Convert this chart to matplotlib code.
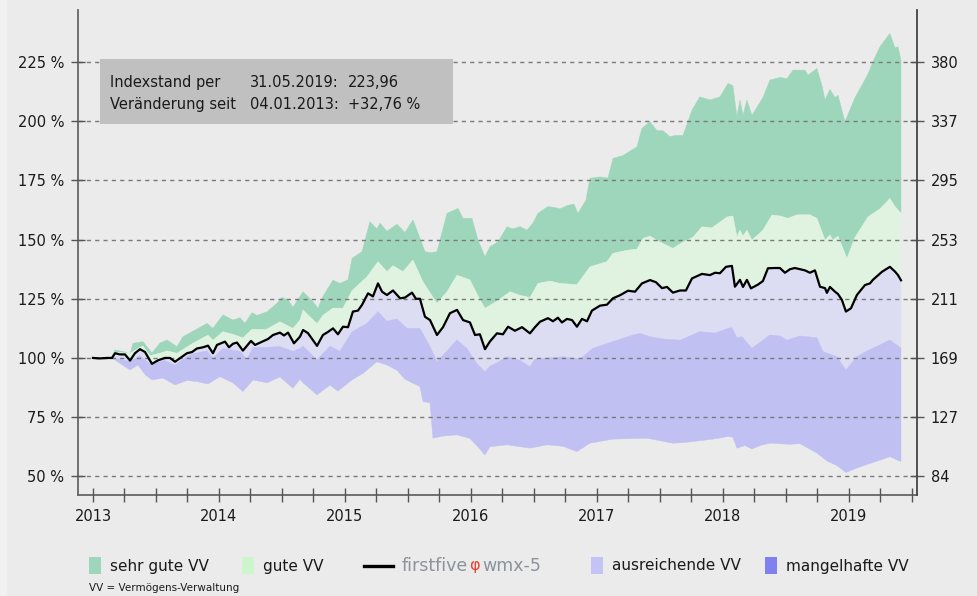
import numpy as np
import matplotlib
matplotlib.use('Agg')
from matplotlib import pyplot as plt
from matplotlib.patches import Rectangle
from matplotlib.lines import Line2D
from matplotlib.ticker import MultipleLocator, FuncFormatter

# firstfive wmx-5 index, % of start value
idx_years = [2013.000, 2013.056, 2013.111, 2013.151, 2013.175, 2013.214, 2013.254, 2013.294, 2013.333, 2013.373,
             2013.413, 2013.468, 2013.516, 2013.571, 2013.611, 2013.651, 2013.706, 2013.746, 2013.786, 2013.825,
             2013.873, 2013.913, 2013.952, 2013.984, 2014.048, 2014.079, 2014.111, 2014.143, 2014.190, 2014.254,
             2014.286, 2014.349, 2014.389, 2014.429, 2014.484, 2014.516, 2014.548, 2014.595, 2014.643, 2014.667,
             2014.706, 2014.746, 2014.778, 2014.825, 2014.865, 2014.905, 2014.944, 2014.984, 2015.024, 2015.063,
             2015.103, 2015.135, 2015.183, 2015.222, 2015.262, 2015.294, 2015.333, 2015.381, 2015.437, 2015.476,
             2015.532, 2015.563, 2015.595, 2015.635, 2015.675, 2015.730, 2015.778, 2015.833, 2015.889, 2015.937,
             2015.992, 2016.032, 2016.071, 2016.111, 2016.151, 2016.206, 2016.254, 2016.294, 2016.349, 2016.405,
             2016.468, 2016.508, 2016.548, 2016.611, 2016.651, 2016.690, 2016.722, 2016.762, 2016.802, 2016.841,
             2016.881, 2016.921, 2016.960, 2017.024, 2017.079, 2017.127, 2017.183, 2017.246, 2017.302, 2017.357,
             2017.421, 2017.468, 2017.516, 2017.556, 2017.603, 2017.659, 2017.706, 2017.754, 2017.833, 2017.897,
             2017.937, 2017.976, 2018.024, 2018.071, 2018.095, 2018.135, 2018.159, 2018.190, 2018.222, 2018.278,
             2018.317, 2018.357, 2018.413, 2018.452, 2018.492, 2018.532, 2018.571, 2018.611, 2018.651, 2018.690,
             2018.730, 2018.770, 2018.810, 2018.825, 2018.849, 2018.889, 2018.913, 2018.944, 2018.976, 2019.016,
             2019.063, 2019.127, 2019.167, 2019.190, 2019.262, 2019.325, 2019.365, 2019.389, 2019.413]
idx_values = [100, 99.8, 100, 100, 102, 101.5, 101.5, 98.9, 102, 103.7,
              102.5, 97.5, 99, 100, 100, 98.4, 100.5, 102, 102.5, 104,
              104.5, 105.2, 102, 105.5, 106.9, 104.5, 106, 106.5, 103.1, 107.2,
              105.5, 107, 108, 109.7, 110.7, 109.5, 110.7, 106.2, 109, 111.8,
              110.5, 107.5, 105.1, 109.7, 111, 112.5, 110, 113.2, 113, 119.6,
              120, 122.4, 127.3, 126, 131.5, 128, 126.6, 128.5, 125.2, 125.5,
              127.6, 125, 125, 117.4, 116, 109.7, 113, 118.9, 120.3, 116,
              115, 109.7, 110, 103.7, 107, 110.4, 110, 113.2, 111.5, 113,
              110.4, 113, 115.3, 116.8, 115.5, 117, 115, 116.5, 116, 113.2,
              116.5, 115.5, 120, 122.1, 122.5, 125.2, 126.5, 128.4, 128, 131.5,
              132.9, 132, 129.5, 130, 127.6, 128.5, 128.5, 133.6, 135.5, 135,
              136, 135.8, 138.5, 138.9, 130.1, 133, 130, 133, 129.4, 131,
              132.5, 137.9, 138, 138, 136, 137.5, 138, 137.5, 137, 136,
              137, 130.1, 129.5, 127.5, 130, 128, 127, 124.5, 119.6, 121,
              126.6, 130.8, 131.5, 133, 136.4, 138.5, 136.5, 135, 132.8]

# upper edge of "sehr gute VV"
top_years = [2013.000, 2013.111, 2013.151, 2013.175, 2013.254, 2013.294, 2013.317, 2013.397, 2013.468, 2013.532,
             2013.587, 2013.667, 2013.714, 2013.810, 2013.905, 2013.952, 2014.032, 2014.111, 2014.167, 2014.206,
             2014.262, 2014.302, 2014.381, 2014.460, 2014.500, 2014.548, 2014.587, 2014.643, 2014.667, 2014.746,
             2014.786, 2014.825, 2014.905, 2014.960, 2015.024, 2015.056, 2015.135, 2015.198, 2015.254, 2015.278,
             2015.333, 2015.413, 2015.476, 2015.540, 2015.571, 2015.635, 2015.683, 2015.730, 2015.810, 2015.897,
             2015.937, 2016.008, 2016.056, 2016.111, 2016.151, 2016.214, 2016.286, 2016.333, 2016.389, 2016.444,
             2016.492, 2016.532, 2016.611, 2016.667, 2016.706, 2016.770, 2016.817, 2016.849, 2016.913, 2016.944,
             2017.024, 2017.087, 2017.127, 2017.206, 2017.317, 2017.357, 2017.421, 2017.476, 2017.524, 2017.579,
             2017.619, 2017.683, 2017.754, 2017.817, 2017.897, 2017.976, 2018.040, 2018.079, 2018.111, 2018.135,
             2018.159, 2018.190, 2018.230, 2018.317, 2018.373, 2018.452, 2018.508, 2018.556, 2018.651, 2018.675,
             2018.746, 2018.786, 2018.810, 2018.849, 2018.889, 2018.913, 2018.968, 2019.048, 2019.111, 2019.151,
             2019.190, 2019.246, 2019.325, 2019.365, 2019.389, 2019.413]
top_values = [100, 100, 100.5, 103.4, 102.5, 101.5, 106.2, 106.9, 102.1, 106.3,
              107.6, 104.8, 109, 111.8, 114.6, 112.5, 118.2, 116, 117, 114.6,
              119.1, 118, 119.5, 123.1, 125.6, 124.5, 121.4, 126, 128, 123.8,
              121, 126, 132.9, 131.5, 133, 142.1, 144.9, 157.6, 154.5, 157,
              153.5, 156.5, 153, 158.3, 154, 144.9, 144.5, 144.9, 161.1, 163.2,
              159, 159, 149.8, 142.8, 147, 149, 155.4, 154.5, 155.5, 154,
              157, 161.1, 164, 163.5, 163, 164.5, 165, 161.1, 166.7, 175.9,
              176.5, 176, 184.3, 185.5, 189.2, 197, 199.8, 196, 196, 193.5,
              194, 194, 204.7, 210.3, 209, 210.3, 216, 215, 202, 209,
              202.5, 209, 202.5, 210, 217.4, 218.5, 218, 221.6, 221.6, 219.5,
              222.3, 215, 209, 213.5, 210, 211, 199.8, 210, 216, 220,
              225.1, 231.5, 237.1, 231, 231.5, 225.8]

# border "sehr gute VV" / "gute VV"
mid_years = [2013.000, 2013.111, 2013.151, 2013.175, 2013.294, 2013.373, 2013.397, 2013.452, 2013.532, 2013.587,
             2013.667, 2013.770, 2013.913, 2013.952, 2014.032, 2014.111, 2014.190, 2014.262, 2014.373, 2014.484,
             2014.587, 2014.643, 2014.667, 2014.778, 2014.825, 2014.905, 2014.984, 2015.056, 2015.175, 2015.262,
             2015.333, 2015.381, 2015.460, 2015.540, 2015.619, 2015.730, 2015.810, 2015.889, 2015.992, 2016.048,
             2016.111, 2016.206, 2016.310, 2016.389, 2016.468, 2016.532, 2016.627, 2016.706, 2016.841, 2016.944,
             2017.079, 2017.127, 2017.238, 2017.317, 2017.365, 2017.421, 2017.500, 2017.603, 2017.683, 2017.762,
             2017.833, 2017.913, 2018.032, 2018.079, 2018.111, 2018.135, 2018.159, 2018.190, 2018.230, 2018.317,
             2018.389, 2018.452, 2018.516, 2018.587, 2018.690, 2018.746, 2018.810, 2018.849, 2018.873, 2018.913,
             2018.984, 2019.048, 2019.151, 2019.246, 2019.325, 2019.365, 2019.413]
mid_values = [100, 100, 100.5, 102.5, 102, 104.5, 105, 101, 102, 103,
              102, 105.5, 109.7, 107.5, 111.1, 110, 108.5, 112.1, 112, 115.3,
              112.5, 116, 120.3, 114.5, 118, 121.1, 121, 128.5, 134.3, 140.7,
              136.5, 139, 136.5, 141.4, 132.2, 123.1, 128, 135, 133, 127,
              121, 124, 128, 126.5, 125.5, 131.5, 132.5, 131.5, 131, 138.5,
              140.7, 144.2, 145.5, 146, 150.5, 151.5, 149, 146.3, 149, 151,
              155.4, 155, 159.6, 160, 151.2, 154, 151.5, 154, 149.8, 154,
              160.4, 160, 159, 160.5, 160.5, 159, 149.8, 152, 149.8, 151.5,
              142.1, 151, 159.6, 163, 167.4, 164, 161.1]

# border "ausreichende VV" / "mangelhafte VV"
low_years = [2013.000, 2013.111, 2013.175, 2013.294, 2013.373, 2013.452, 2013.571, 2013.651, 2013.770, 2013.905,
             2013.952, 2014.032, 2014.167, 2014.222, 2014.270, 2014.381, 2014.484, 2014.587, 2014.643, 2014.667,
             2014.778, 2014.881, 2014.960, 2015.056, 2015.175, 2015.262, 2015.333, 2015.413, 2015.492, 2015.595,
             2015.675, 2015.730, 2015.889, 2015.968, 2016.048, 2016.111, 2016.151, 2016.206, 2016.286, 2016.389,
             2016.468, 2016.508, 2016.730, 2016.865, 2016.968, 2017.127, 2017.286, 2017.341, 2017.421, 2017.524,
             2017.659, 2017.817, 2017.937, 2018.040, 2018.071, 2018.111, 2018.151, 2018.190, 2018.230, 2018.373,
             2018.452, 2018.508, 2018.611, 2018.746, 2018.794, 2018.905, 2018.976, 2019.063, 2019.143, 2019.246,
             2019.325, 2019.413]
low_values = [100, 100, 100, 98.5, 101, 97.5, 99, 97, 101.5, 103,
              100, 104, 102.8, 99.5, 104.5, 104.5, 104.8, 102.8, 104, 105,
              99.2, 105, 102.8, 111.1, 114.6, 119.6, 115.5, 116.5, 112.5, 112.5,
              104.8, 98.4, 107.6, 104, 97.5, 94.2, 96.5, 98, 100.6, 99,
              96.3, 99.5, 100.5, 99.5, 104.1, 106.9, 109.7, 110.4, 109, 108,
              107.5, 111.1, 110.5, 112.5, 112.8, 108.5, 109, 106.5, 104.1, 109.7,
              109.3, 107.5, 109.3, 108.5, 102.7, 100.5, 94.9, 100.5, 103, 105.5,
              107.6, 104.1]

# lower edge of "mangelhafte VV"
bottom_years = [2013.000, 2013.111, 2013.151, 2013.294, 2013.357, 2013.413, 2013.468, 2013.556, 2013.651, 2013.746,
                2013.825, 2013.913, 2014.008, 2014.111, 2014.190, 2014.270, 2014.381, 2014.484, 2014.587, 2014.643,
                2014.667, 2014.778, 2014.881, 2014.944, 2015.056, 2015.143, 2015.254, 2015.333, 2015.413, 2015.476,
                2015.595, 2015.619, 2015.675, 2015.698, 2015.778, 2015.889, 2015.992, 2016.071, 2016.111, 2016.151,
                2016.286, 2016.468, 2016.603, 2016.730, 2016.841, 2016.944, 2017.127, 2017.397, 2017.603, 2017.683,
                2017.921, 2018.040, 2018.079, 2018.111, 2018.175, 2018.230, 2018.294, 2018.373, 2018.532, 2018.611,
                2018.746, 2018.825, 2018.905, 2018.976, 2019.063, 2019.143, 2019.246, 2019.325, 2019.413]
bottom_values = [100, 100, 100, 94.9, 97, 93, 90.7, 91.5, 88.6, 90.5,
                 90, 89, 92.1, 89.5, 85.8, 90.7, 89.5, 92, 87.2, 91,
                 89.5, 84.4, 88.5, 86, 90.7, 93.5, 98.4, 97, 94.8, 91,
                 87.9, 81.6, 81, 66.1, 67, 67.5, 66, 61.5, 59, 62.5,
                 63.3, 61.9, 63.3, 62.7, 60.4, 64, 65.7, 66.1, 64, 64.2,
                 65.7, 66.8, 66.5, 61.9, 63, 61.5, 63, 64, 63.5, 63.8,
                 59.8, 56.5, 54.5, 51.6, 53.5, 55, 56.8, 58.3, 56.2]

pct_ticks = [50, 75, 100, 125, 150, 175, 200, 225]
right_labels = ['84', '127', '169', '211', '253', '295', '337', '380']

info_labels = ['Indexstand per', 'Veränderung seit']
info_dates = ['31.05.2019:', '04.01.2013:']
info_values = ['223,96', '+32,76 %']

legend_labels = ['sehr gute VV', 'gute VV', 'ausreichende VV', 'mangelhafte VV']
legend_colors = ['#9dd6bb', '#cdf5cd', '#c3c3f5', '#8080f0']
band_colors = ['#9dd6bb', '#e0f3e0', '#dcdcf3', '#c0c0f2']

BG = '#ebebeb'
W, H = 978, 596


def band(ax, x_hi, y_hi, x_lo, y_lo, color):
    """Fill the area between two edges with their own x"""
    xs = np.concatenate([x_hi, x_lo[::-1]])
    ys = np.concatenate([y_hi, y_lo[::-1]])
    ax.fill(xs, ys, facecolor=color, edgecolor=color, linewidth=0.3, zorder=1)


fig = plt.figure(figsize=(W / 100, H / 100), dpi=100, facecolor=BG)
fig.add_artist(Rectangle((0, 0), 7 / W, 1, transform=fig.transFigure,
                         facecolor='#f1f1f1', edgecolor='none'))
ax = fig.add_axes([78 / W, 1 - 495 / H, (917 - 78) / W, (495 - 10) / H])
ax.set_facecolor(BG)

edges = [(np.array(top_years), np.array(top_values)),
         (np.array(mid_years), np.array(mid_values)),
         (np.array(idx_years), np.array(idx_values)),
         (np.array(low_years), np.array(low_values)),
         (np.array(bottom_years), np.array(bottom_values))]
for i, color in enumerate(band_colors):
    band(ax, edges[i][0], edges[i][1], edges[i + 1][0], edges[i + 1][1], color)

ax.plot(idx_years, idx_values, color='black', linewidth=1.6, zorder=3)

ax.set_xlim(2012.881, 2019.540)
ax.set_ylim(42.1, 247.0)
ax.set_yticks(pct_ticks)
ax.yaxis.set_major_formatter(FuncFormatter(lambda v, p: f'{v:.0f} %'))
ax.xaxis.set_major_locator(MultipleLocator(1))
ax.xaxis.set_minor_locator(MultipleLocator(0.25))
ax.xaxis.set_major_formatter(FuncFormatter(lambda v, p: f'{v:.0f}'))
ax.yaxis.grid(True, color='#7a7a7a', linestyle=(0, (3, 3)), linewidth=1)
ax.set_axisbelow(False)

for name in ['top', 'right']:
    ax.spines[name].set_visible(False)
for name in ['left', 'bottom']:
    ax.spines[name].set_color('#666666')
    ax.spines[name].set_linewidth(1.3)
ax.tick_params(axis='both', which='both', direction='inout', length=10, width=1,
               color='#555555', labelsize=10.5, labelcolor='#1a1a1a', pad=5)

ax2 = ax.twinx()
ax2.set_ylim(ax.get_ylim())
ax2.set_yticks(pct_ticks)
ax2.set_yticklabels(right_labels)
for name in ['top', 'left', 'bottom']:
    ax2.spines[name].set_visible(False)
ax2.spines['right'].set_color('#444444')
ax2.spines['right'].set_linewidth(1.3)
ax2.tick_params(axis='y', direction='inout', length=10, width=1, color='#555555',
                labelsize=10.5, labelcolor='#1a1a1a', pad=5)

# info box
ax.add_patch(Rectangle((0.0262, 0.765), 0.4208, 0.134, transform=ax.transAxes,
                       facecolor='#c0c0c0', edgecolor='none', zorder=4))
for row in range(2):
    y = 0.8515 - row * 0.0455
    ax.text(0.0381, y, info_labels[row], transform=ax.transAxes, fontsize=10.5,
            va='center', color='#1a1a1a', zorder=5)
    ax.text(0.205, y, info_dates[row], transform=ax.transAxes, fontsize=10.5,
            va='center', color='#1a1a1a', zorder=5)
    ax.text(0.3218, y, info_values[row], transform=ax.transAxes, fontsize=10.5,
            va='center', color='#1a1a1a', zorder=5)

# legend below the chart
ly = 1 - 566 / H
patch_x = [89, 242, 591, 765]
for px, label, color in zip(patch_x, legend_labels, legend_colors):
    fig.add_artist(Rectangle((px / W, 1 - 574 / H), 12 / W, 17 / H,
                             transform=fig.transFigure, facecolor=color, edgecolor='none'))
    fig.text((px + 21) / W, ly, label, fontsize=11, va='center', color='#1a1a1a')

fig.add_artist(Line2D([364 / W, 393 / W], [ly, ly], transform=fig.transFigure,
                      color='black', linewidth=2.4))
t1 = fig.text(402 / W, ly, 'firstfive', fontsize=12.5, va='center', color='#8c939b')
t2 = ax.annotate('φ', xy=(1, 0), xycoords=t1, xytext=(0.5, 1.5), textcoords='offset points',
                 ha='left', va='bottom', fontsize=11.5, color='#e8432e')
ax.annotate('wmx-5', xy=(1, 0), xycoords=t1, xytext=(10, 0), textcoords='offset points',
            ha='left', va='bottom', fontsize=12.5, color='#8c939b')

fig.text(89 / W, 1 - 588 / H, 'VV = Vermögens-Verwaltung', fontsize=7.5,
         va='center', color='#1a1a1a')

plt.savefig('out.png', dpi=100, facecolor=BG)
